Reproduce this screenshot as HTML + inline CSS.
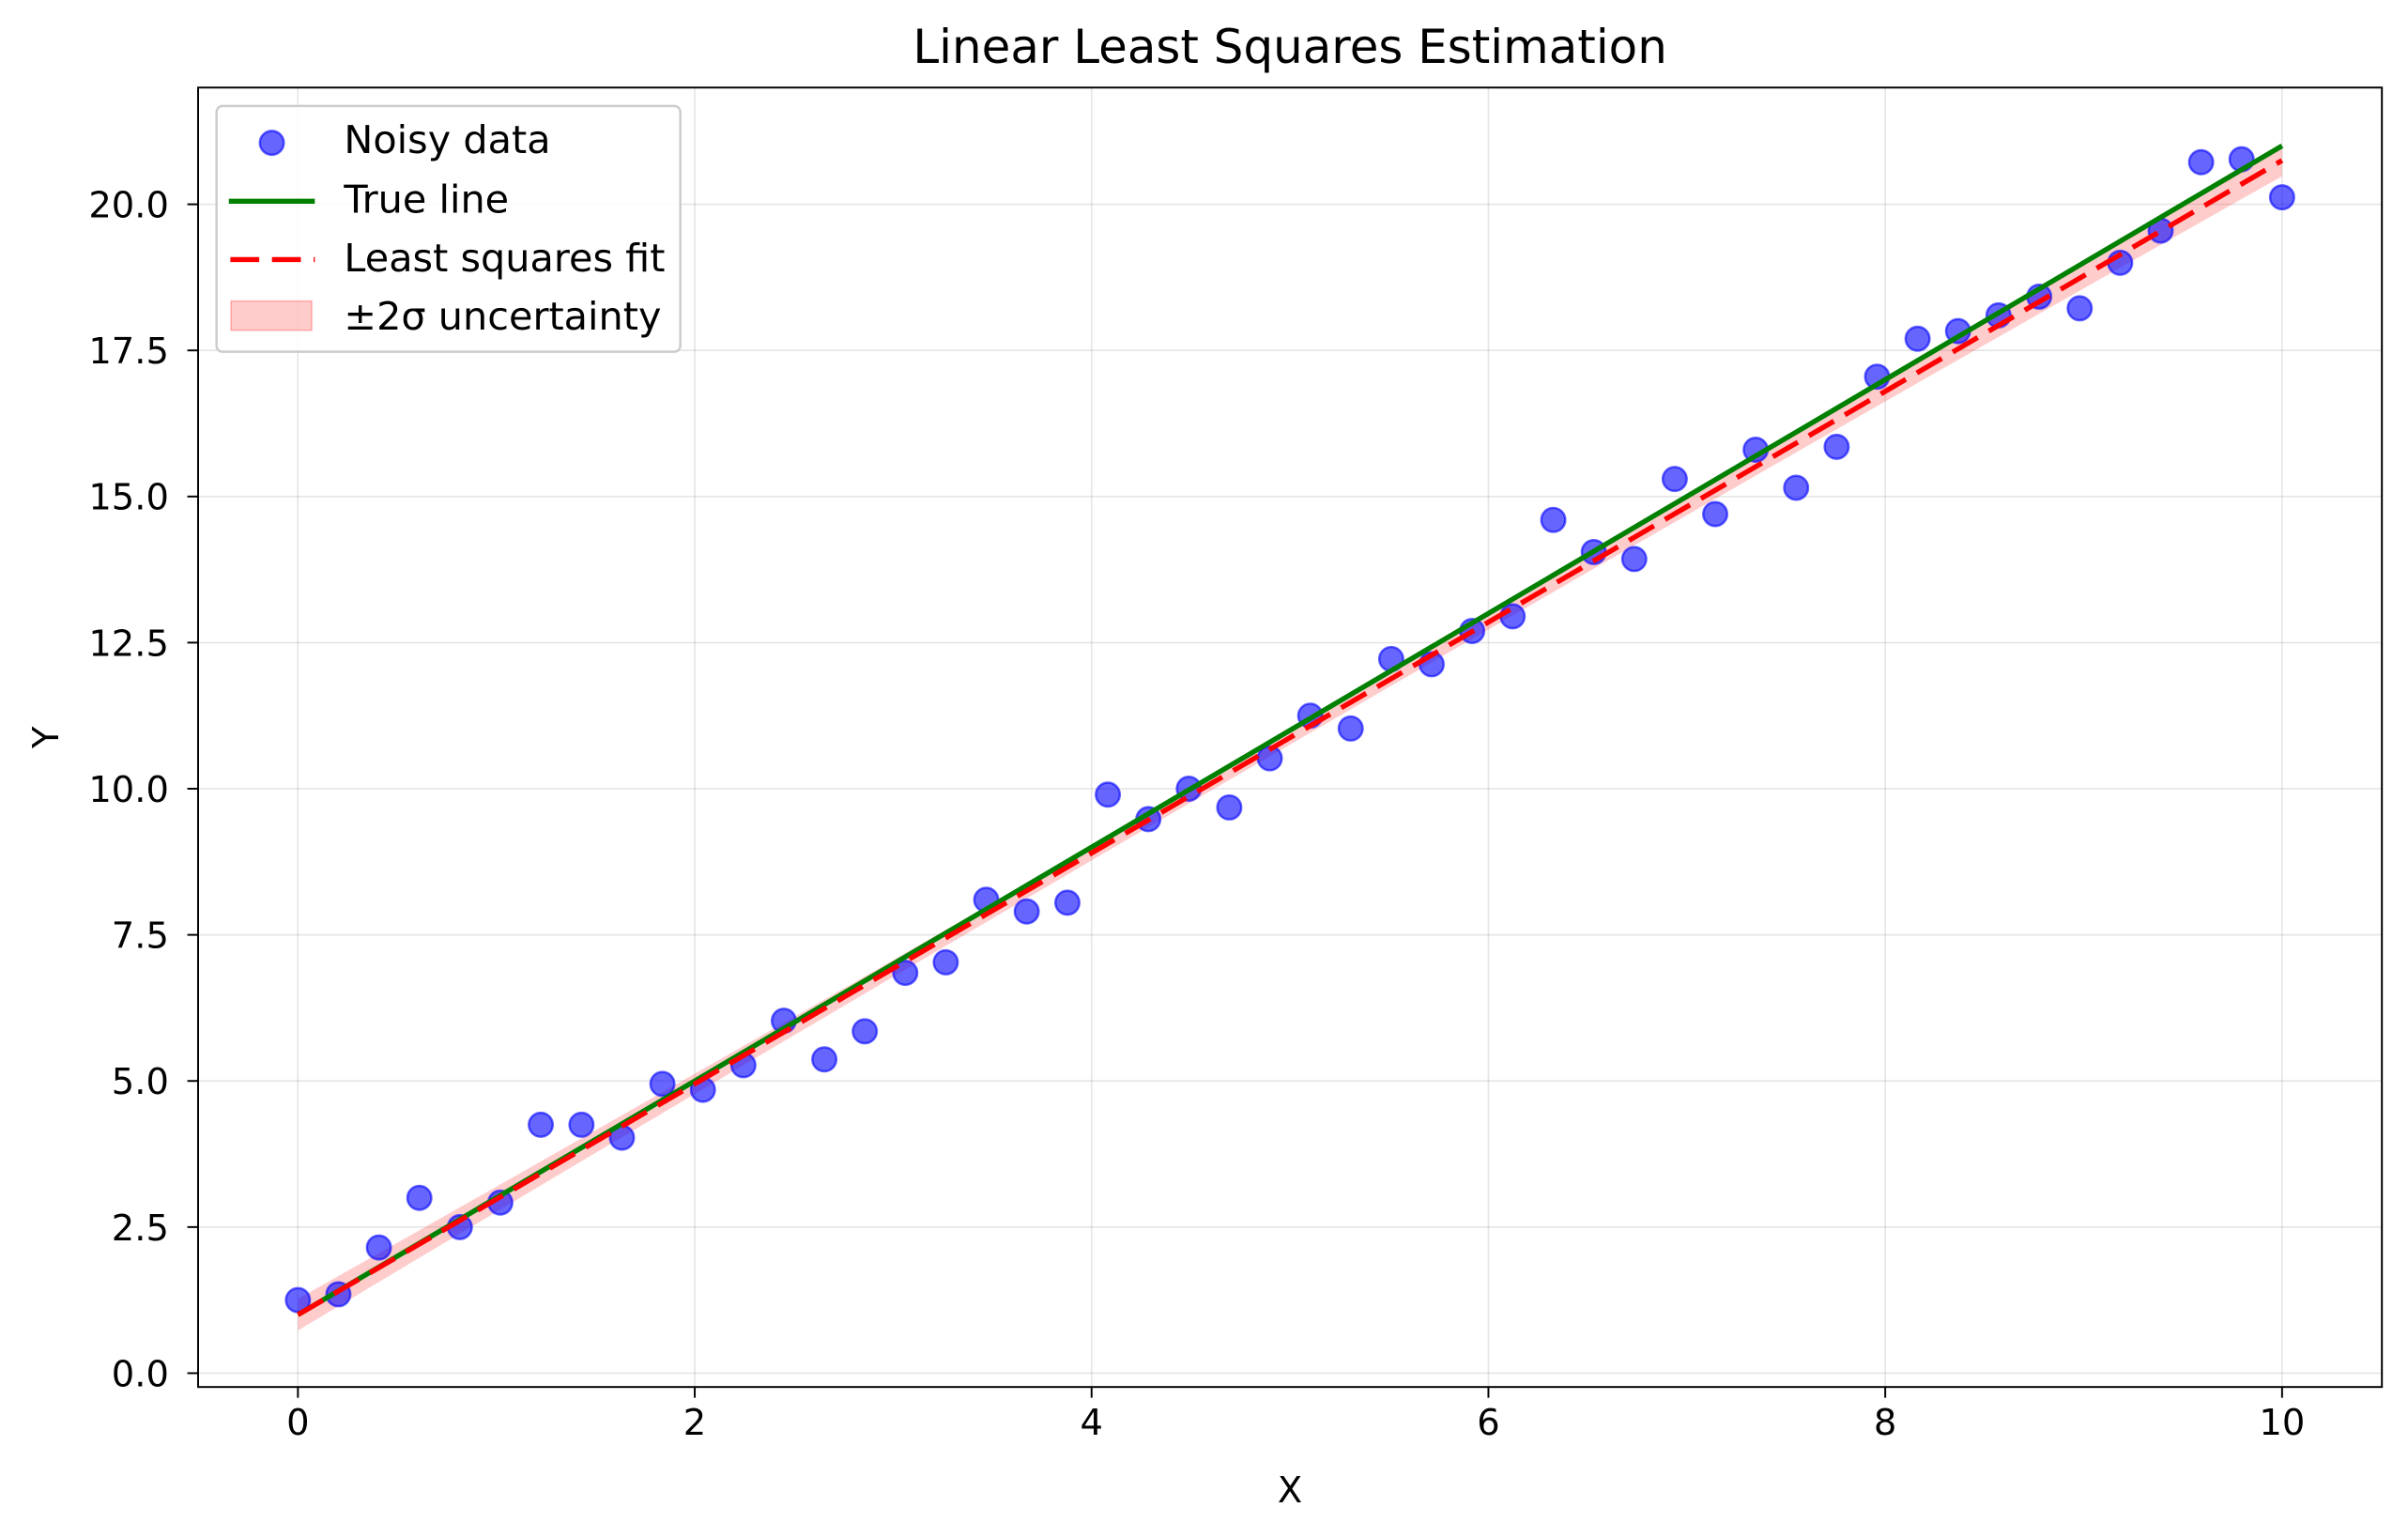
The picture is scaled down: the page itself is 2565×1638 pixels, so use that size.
<!DOCTYPE html>
<html><head><meta charset="utf-8"><style>
html,body{margin:0;padding:0;background:#fff;}
svg{display:block;font-family:"DejaVu Sans","Liberation Sans",sans-serif;}
</style></head><body>
<svg id="chart" width="2565" height="1638" viewBox="0 0 1568 1001.3" xmlns="http://www.w3.org/2000/svg">
<rect width="1568" height="1001.3" fill="#fff"/>
<g id="grid"></g>
<g id="band"></g>
<g id="points"></g>
<g id="lines"></g>
<rect x="129" y="57" width="1422" height="846" fill="none" stroke="#000" stroke-width="1.2"/>
<g id="ticks"></g>
<text x="840" y="41" font-size="30.5" text-anchor="middle">Linear Least Squares Estimation</text>
<text x="840" y="978" font-size="23.5" text-anchor="middle">X</text>
<text x="38" y="480" font-size="23.5" text-anchor="middle" transform="rotate(-90 38 480)">Y</text>
<g>
<rect x="141" y="69" width="302" height="160" rx="4" fill="#fff" fill-opacity="0.8" stroke="#ccc" stroke-width="1.5"/>
<g><circle cx="177" cy="93" r="7.8" fill="#0000ff" fill-opacity="0.6" stroke="#0000ff" stroke-opacity="0.6" stroke-width="1.5"/><text x="224" y="99.6" font-size="25.3">Noisy data</text></g>
<g><line x1="149" y1="131" x2="205" y2="131" stroke="#008000" stroke-width="3.3"/><text x="224" y="138.6" font-size="25.3">True line</text></g>
<g><line x1="150" y1="169" x2="205" y2="169" stroke="#ff0000" stroke-width="3.3" stroke-dasharray="18.8,8.3"/><text x="224" y="176.8" font-size="25.3">Least squares fit</text></g>
<g><rect x="150.4" y="196" width="52.6" height="19" fill="#ff0000" fill-opacity="0.2" stroke="#ff0000" stroke-opacity="0.25"/><text x="224" y="214.5" font-size="25.3">±2σ uncertainty</text></g>
</g>
</svg>
<script>
const xData=[0,0.204,0.408,0.612,0.816,1.020,1.224,1.429,1.633,1.837,2.041,2.245,2.449,2.653,2.857,3.061,3.265,3.469,3.673,3.878,4.082,4.286,4.490,4.694,4.898,5.102,5.306,5.510,5.714,5.918,6.122,6.327,6.531,6.735,6.939,7.143,7.347,7.551,7.755,7.959,8.163,8.367,8.571,8.776,8.980,9.184,9.388,9.592,9.796,10];
const yData=[1.25,1.35,2.15,3.0,2.5,2.92,4.25,4.25,4.03,4.95,4.85,5.27,6.03,5.37,5.85,6.85,7.03,8.1,7.9,8.05,9.9,9.48,10.0,9.68,10.52,11.25,11.03,12.22,12.13,12.7,12.95,14.6,14.05,13.93,15.3,14.7,15.8,15.15,15.85,17.05,17.7,17.83,18.1,18.42,18.22,19.0,19.55,20.72,20.77,20.12];
const trueLine=[1,2];
const fitLine=[1.0,1.975];
const bandHalf=[0.27,0.12,0.27];
const xTicks=[0,2,4,6,8,10];
const yTicks=[0,2.5,5,7.5,10,12.5,15,17.5,20];
const NS="http://www.w3.org/2000/svg";
const X=v=>194+v*129.2, Y=v=>894-v*38.05;
function mk(t,a,p){const e=document.createElementNS(NS,t);for(const k in a)e.setAttribute(k,a[k]);p.appendChild(e);return e;}
const grid=document.getElementById('grid'),ticks=document.getElementById('ticks');
xTicks.forEach(v=>{
 const g=mk('line',{x1:X(v),x2:X(v),y1:57,y2:903,stroke:'#000','stroke-opacity':0.1},grid);
 
 
 mk('line',{x1:X(v),x2:X(v),y1:903,y2:910,stroke:'#000','stroke-width':1.2},ticks);
 const t=mk('text',{x:X(v),y:934,'font-size':23.5,'text-anchor':'middle'},ticks);t.textContent=v;
 
 
});
yTicks.forEach(v=>{
 const g=mk('line',{x1:129,x2:1551,y1:Y(v),y2:Y(v),stroke:'#000','stroke-opacity':0.1},grid);
 
 
 mk('line',{x1:122,x2:129,y1:Y(v),y2:Y(v),stroke:'#000','stroke-width':1.2},ticks);
 const t=mk('text',{x:110,y:Y(v)+8.5,'font-size':23.5,'text-anchor':'end'},ticks);t.textContent=v.toFixed(1);
 
 
});
const hw=x=>{const t=Math.abs(x-5)/5;return bandHalf[1]+(bandHalf[0]-bandHalf[1])*t*t;};
let up=[],dn=[];
for(let i=0;i<=50;i++){const x=i/5,f=fitLine[0]+fitLine[1]*x;up.push(X(x)+','+Y(f+hw(x)));dn.unshift(X(x)+','+Y(f-hw(x)));}
const b=mk('polygon',{points:up.concat(dn).join(' '),fill:'#ff0000','fill-opacity':0.2},document.getElementById('band'));


const pts=document.getElementById('points');
xData.forEach((x,i)=>{
 const c=mk('circle',{cx:X(x),cy:Y(yData[i]),r:7.8,fill:'#0000ff','fill-opacity':0.6,stroke:'#0000ff','stroke-opacity':0.6,'stroke-width':1.5},pts);
 
 
});
const L=document.getElementById('lines');
const tl=mk('line',{x1:X(0),y1:Y(trueLine[0]),x2:X(10),y2:Y(trueLine[0]+10*trueLine[1]),stroke:'#008000','stroke-width':3.3},L);


const fl=mk('line',{x1:X(0),y1:Y(fitLine[0]),x2:X(10),y2:Y(fitLine[0]+10*fitLine[1]),stroke:'#ff0000','stroke-width':3.3,'stroke-dasharray':'18.8,8.3'},L);


</script>
</body></html>
